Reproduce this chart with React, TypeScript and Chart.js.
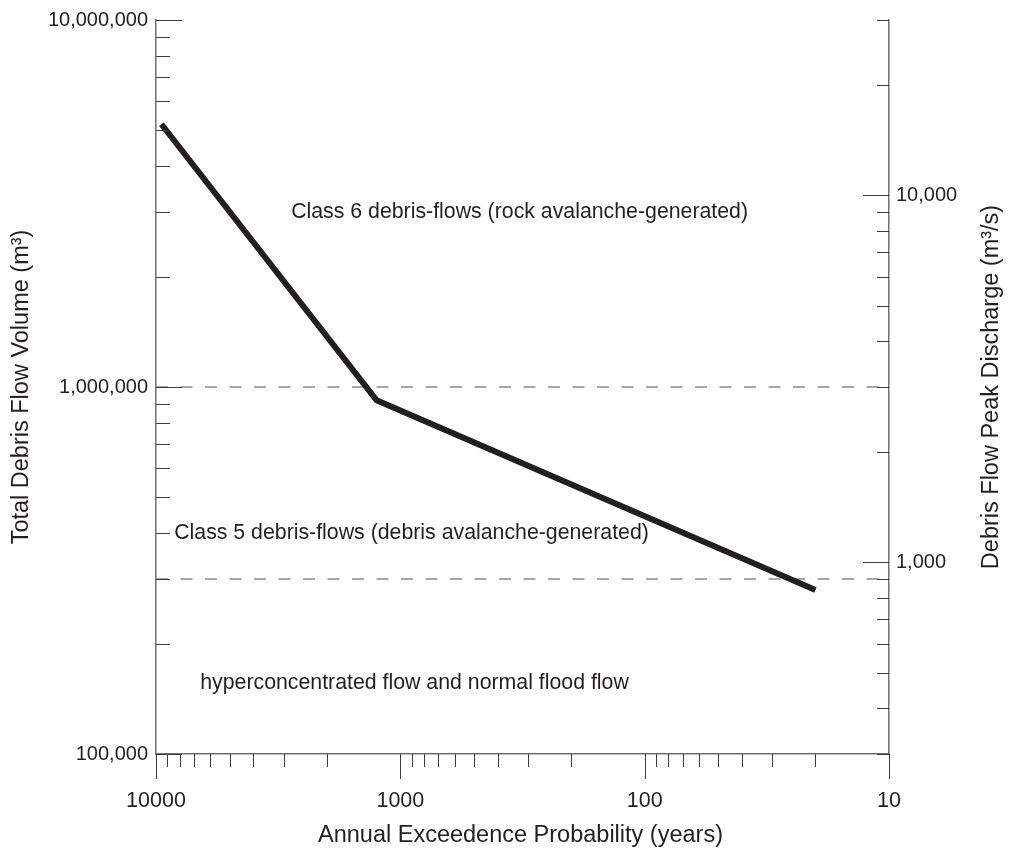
import React, { useEffect, useRef } from 'react';
import { Chart, registerables } from 'chart.js';

Chart.register(...registerables);

// ---- data ----
const curveYears = [9500, 1250, 20];
const curveVolume = [5200000, 920000, 280000];

const thresholdVolumes = [1000000, 300000];

const yearTicks = [10000, 1000, 100, 10];
const yearMinorTicks = [
  9000, 8000, 7000, 6000, 5000, 4000, 3000, 2000,
  900, 800, 700, 600, 500, 400, 300, 200,
  90, 80, 70, 60, 50, 40, 30, 20,
];
const volumeTicks = [10000000, 1000000, 100000];
const volumeMinorTicks = [
  9000000, 8000000, 7000000, 6000000, 5000000, 4000000, 3000000, 2000000,
  900000, 800000, 700000, 600000, 500000, 400000, 300000, 200000,
];
const dischargeTicks = [10000, 1000];
const dischargeMinorTicks = [
  30000, 20000,
  9000, 8000, 7000, 6000, 5000, 4000, 3000, 2000,
  900, 800, 700, 600, 500, 400, 300,
];

const regionLabels = [
  'Class 6 debris-flows (rock avalanche-generated)',
  'Class 5 debris-flows (debris avalanche-generated)',
  'hyperconcentrated flow and normal flood flow',
];
const regionLabelYears = [325, 900, 875];
const regionLabelVolumes = [3000000, 400000, 156000];

const xTitle = 'Annual Exceedence Probability (years)';
const yTitle = 'Total Debris Flow Volume (m³)';
const y2Title = 'Debris Flow Peak Discharge (m³/s)';

const FONT = '"Liberation Sans", Arial, Helvetica, sans-serif';
const TEXT = '#231f20';

const decorPlugin = {
  id: 'decor',
  afterDraw(chart: any) {
    const { ctx, chartArea, scales } = chart;
    const xs = scales.x;
    const ys = scales.y;
    const y2s = scales.y2;
    ctx.save();
    ctx.strokeStyle = '#3c3c3c';
    ctx.lineWidth = 1;
    const seg = (x0: number, y0: number, x1: number, y1: number) => {
      ctx.beginPath();
      ctx.moveTo(x0, y0);
      ctx.lineTo(x1, y1);
      ctx.stroke();
    };
    const L = chartArea.left;
    const R = chartArea.right;
    const B = chartArea.bottom;
    volumeTicks.forEach((v) => {
      const p = Math.round(ys.getPixelForValue(v)) + 0.5;
      seg(L, p, L + 26, p);
    });
    volumeMinorTicks.forEach((v) => {
      const p = Math.round(ys.getPixelForValue(v)) + 0.5;
      seg(L, p, L + 14, p);
    });
    dischargeTicks.forEach((v) => {
      const p = Math.round(y2s.getPixelForValue(v)) + 0.5;
      seg(R, p, R - 26, p);
    });
    dischargeMinorTicks.forEach((v) => {
      const p = Math.round(y2s.getPixelForValue(v)) + 0.5;
      seg(R, p, R - 12, p);
    });
    yearTicks.forEach((v) => {
      const p = Math.round(xs.getPixelForValue(v)) + 0.5;
      seg(p, B, p, B + 25);
    });
    yearMinorTicks.forEach((v) => {
      const p = Math.round(xs.getPixelForValue(v)) + 0.5;
      seg(p, B, p, B + 13);
    });

    ctx.fillStyle = TEXT;
    ctx.textBaseline = 'middle';
    ctx.textAlign = 'center';
    ctx.font = `21.3px ${FONT}`;
    regionLabels.forEach((t, i) => {
      ctx.fillText(
        t,
        xs.getPixelForValue(regionLabelYears[i]),
        ys.getPixelForValue(regionLabelVolumes[i])
      );
    });

    ctx.font = `23.5px ${FONT}`;
    ctx.fillText(xTitle, (L + R) / 2 - 2, chart.height - 13);

    const midY = (chartArea.top + B) / 2;
    ctx.save();
    ctx.translate(22, midY);
    ctx.rotate(-Math.PI / 2);
    ctx.fillText(yTitle, 0, 0);
    ctx.restore();

    ctx.save();
    ctx.translate(992, midY);
    ctx.rotate(-Math.PI / 2);
    ctx.fillText(y2Title, 0, 0);
    ctx.restore();

    ctx.restore();
  },
};

export default function App() {
  const ref = useRef<HTMLCanvasElement | null>(null);

  useEffect(() => {
    if (!ref.current) return;
    const axisBorder = { display: true, color: '#707070', width: 1.5 };
    const noGrid = { display: false, drawTicks: false };
    const chart = new Chart(ref.current, {
      type: 'line',
      data: {
        datasets: [
          {
            label: 'curve',
            data: curveYears.map((x, i) => ({ x, y: curveVolume[i] })),
            borderColor: '#231f20',
            borderWidth: 6,
            pointRadius: 0,
            borderCapStyle: 'butt',
            borderJoinStyle: 'miter',
            tension: 0,
            yAxisID: 'y',
          },
          ...thresholdVolumes.map((v) => ({
            label: 'threshold ' + v,
            data: [
              { x: 10000, y: v },
              { x: 10, y: v },
            ],
            borderColor: '#8a8a8a',
            borderWidth: 1.5,
            borderDash: [12, 12.5],
            pointRadius: 0,
            yAxisID: 'y',
          })),
        ],
      },
      options: {
        animation: false,
        responsive: true,
        maintainAspectRatio: false,
        layout: { padding: { top: 18, left: 0, right: 0, bottom: 0 } },
        plugins: {
          legend: { display: false },
          tooltip: { enabled: false },
        },
        scales: {
          x: {
            type: 'logarithmic',
            position: 'bottom',
            reverse: true,
            min: 10,
            max: 10000,
            afterBuildTicks: (s: any) => {
              s.ticks = yearTicks.map((v) => ({ value: v }));
            },
            afterFit: (s: any) => {
              s.height = 95;
            },
            grid: noGrid,
            border: axisBorder,
            ticks: {
              padding: 34,
              autoSkip: false,
              maxRotation: 0,
              color: TEXT,
              font: { family: FONT, size: 21.5 },
              callback: (v: any) => String(v),
            },
          },
          y: {
            type: 'logarithmic',
            position: 'left',
            min: 100000,
            max: 10000000,
            afterBuildTicks: (s: any) => {
              s.ticks = volumeTicks.map((v) => ({ value: v }));
            },
            afterFit: (s: any) => {
              s.width = 156;
            },
            grid: noGrid,
            border: axisBorder,
            ticks: {
              padding: 8,
              autoSkip: false,
              color: TEXT,
              font: { family: FONT, size: 20 },
              callback: (v: any) => Number(v).toLocaleString('en-US'),
            },
          },
          y2: {
            type: 'logarithmic',
            position: 'right',
            min: 300,
            max: 30000,
            afterBuildTicks: (s: any) => {
              s.ticks = dischargeTicks.map((v) => ({ value: v }));
            },
            afterFit: (s: any) => {
              s.width = 120;
            },
            grid: noGrid,
            border: axisBorder,
            ticks: {
              padding: 7,
              autoSkip: false,
              color: TEXT,
              font: { family: FONT, size: 20 },
              callback: (v: any) => Number(v).toLocaleString('en-US'),
            },
          },
        },
      } as any,
      plugins: [decorPlugin],
    });
    return () => chart.destroy();
  }, []);

  return (
    <div style={{ position: 'fixed', left: 0, top: 0, width: 1009, height: 849, background: '#fff' }}>
      <canvas ref={ref} />
    </div>
  );
}
